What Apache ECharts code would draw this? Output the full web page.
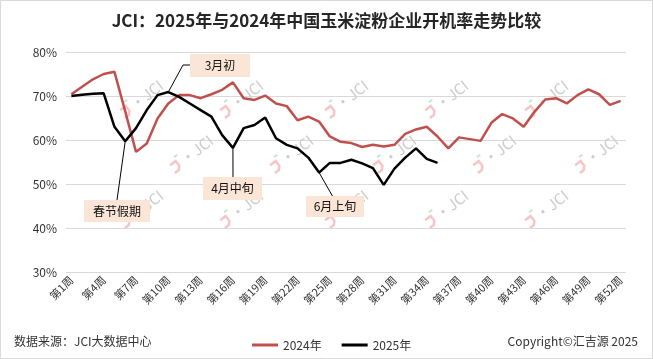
<!DOCTYPE html>
<html><head><meta charset="utf-8">
<script src="https://cdn.jsdelivr.net/npm/echarts@6/dist/echarts.min.js"></script>
<style>html,body{margin:0;padding:0;background:#fff}#c{width:653px;height:359px}</style>
</head><body><div id="c"></div>
<script>
const weeks = ['第1周','第2周','第3周','第4周','第5周','第6周','第7周','第8周','第9周','第10周','第11周','第12周','第13周','第14周','第15周','第16周','第17周','第18周','第19周','第20周','第21周','第22周','第23周','第24周','第25周','第26周','第27周','第28周','第29周','第30周','第31周','第32周','第33周','第34周','第35周','第36周','第37周','第38周','第39周','第40周','第41周','第42周','第43周','第44周','第45周','第46周','第47周','第48周','第49周','第50周','第51周','第52周'];
const rate2024 = [70.4,72.1,73.8,75.0,75.5,66.5,57.3,59.2,64.9,68.3,70.2,70.2,69.5,70.4,71.4,73.1,69.5,69.1,70.1,68.3,67.7,64.5,65.3,64.2,60.8,59.6,59.3,58.4,58.9,58.5,58.9,61.4,62.4,63.0,60.8,58.1,60.6,60.2,59.8,63.9,65.9,64.9,63.0,66.4,69.2,69.5,68.3,70.2,71.5,70.4,68.0,68.9];
const rate2025 = [70.0,70.3,70.5,70.6,63.0,59.7,62.7,66.8,70.2,70.9,69.8,68.3,66.8,65.3,61.1,58.2,62.7,63.4,65.1,60.4,58.9,58.1,56.0,52.6,54.8,54.8,55.5,54.7,53.6,49.8,53.5,56.0,58.1,55.7,54.8];
const yMin = 30, yMax = 80, yStep = 10;
const seriesNames = ['2024年','2025年'];
const notes = [
  {text:'3月初', week:10},
  {text:'春节假期', week:6},
  {text:'4月中旬', week:16},
  {text:'6月上旬', week:24}
];
const FONT = '"Noto Sans CJK SC","Noto Sans",sans-serif';

const chart = echarts.init(document.getElementById('c'), null, {renderer:'canvas'});
const option = {
  backgroundColor:'#fff',
  animation:false,
  textStyle:{fontFamily:FONT},
  title:{text:'JCI：2025年与2024年中国玉米淀粉企业开机率走势比较', left:'center', top:7,
    textStyle:{fontFamily:FONT, fontSize:17, fontWeight:'bold', color:'#262626'}},
  grid:{left:66, right:27, top:52, bottom:87, containLabel:false},
  legend:{data:seriesNames, left:247, top:334, icon:'rect', itemWidth:26, itemHeight:3, itemGap:20,
    textStyle:{fontFamily:FONT, fontSize:12, color:'#333'}},
  xAxis:{type:'category', data:weeks, boundaryGap:true,
    axisLine:{show:false}, axisTick:{show:false},
    axisLabel:{interval:2, rotate:45, fontSize:11, color:'#333', margin:6, fontFamily:FONT}},
  yAxis:{type:'value', min:yMin, max:yMax, interval:yStep,
    axisLine:{show:false}, axisTick:{show:false},
    axisLabel:{formatter:'{value}%', fontSize:12, color:'#333', margin:9, fontFamily:FONT},
    splitLine:{lineStyle:{color:'#d9d9d9', width:1}}},
  series:[
    {name:seriesNames[0], type:'line', data:rate2024, symbol:'none', smooth:false, z:2,
      lineStyle:{color:'#C0504D', width:2.5}, itemStyle:{color:'#C0504D'}},
    {name:seriesNames[1], type:'line', data:rate2025, symbol:'none', smooth:false, z:3,
      lineStyle:{color:'#000', width:2.5}, itemStyle:{color:'#000'}}
  ]
};
chart.setOption(option);

// watermarks
function watermark(x, y){
  return {type:'group', x:x, y:y, rotation:0.66, z:1, silent:true, children:[
    {type:'polyline', shape:{points:[[-22,-4],[-15,-4],[-15,2],[-18,5],[-23,5]]},
      style:{stroke:'#f6c6c6', lineWidth:2.5, fill:null}},
    {type:'line', shape:{x1:-14,y1:-8,x2:-10,y2:-8}, style:{stroke:'#c2e8d0', lineWidth:2}},
    {type:'text', x:-10, y:0, style:{text:'·JCI', fontSize:15, fontFamily:FONT, fill:'#cdcdcd', verticalAlign:'middle'}}
  ]};
}
const wm = [];
[[140,100],[240,100],[345,100],[445,100],[545,100],
 [190,155],[290,155],[393,155],[493,155],[595,155],
 [140,210],[240,210],[345,210],[445,210],[545,210]].forEach(p=>wm.push(watermark(p[0],p[1])));

// annotations
const boxes = {
  '3月初':{x:190,y:54,w:60,h:23, end:[[183,65],[190,65]]},
  '春节假期':{x:84,y:200,w:66,h:22, end:[[117,200]]},
  '4月中旬':{x:203,y:177,w:59,h:23, end:[[233,177]]},
  '6月上旬':{x:306,y:196,w:58,h:21, end:[[333,197]]}
};
const ann = [];
notes.forEach(n=>{
  const b = boxes[n.text];
  const p = chart.convertToPixel({seriesIndex:1}, [n.week-1, rate2025[n.week-1]]);
  const pts = [p].concat(b.end);
  ann.push({type:'polyline', z:10, shape:{points:pts}, style:{stroke:'#000', lineWidth:1, fill:null}});
  ann.push({type:'rect', z:10, shape:{x:b.x,y:b.y,width:b.w,height:b.h}, style:{fill:'#FBE5D6'}});
  ann.push({type:'text', z:11, x:b.x+b.w/2, y:b.y+b.h/2, style:{text:n.text, fontSize:12, fontFamily:FONT, fill:'#111', align:'center', verticalAlign:'middle'}});
});

chart.setOption({graphic:[
  {type:'rect', z:0, shape:{x:0.5,y:0.5,width:652,height:358}, style:{fill:null, stroke:'#d9d9d9', lineWidth:1}, silent:true},
  {type:'text', x:14, y:341, style:{text:'数据来源：JCI大数据中心', fontSize:12, fontFamily:FONT, fill:'#333', verticalAlign:'middle'}},
  {type:'text', x:638, y:341, style:{text:'Copyright©汇吉源 2025', fontSize:12, fontFamily:FONT, fill:'#333', align:'right', verticalAlign:'middle'}}
].concat(wm).concat(ann)});
</script></body></html>
